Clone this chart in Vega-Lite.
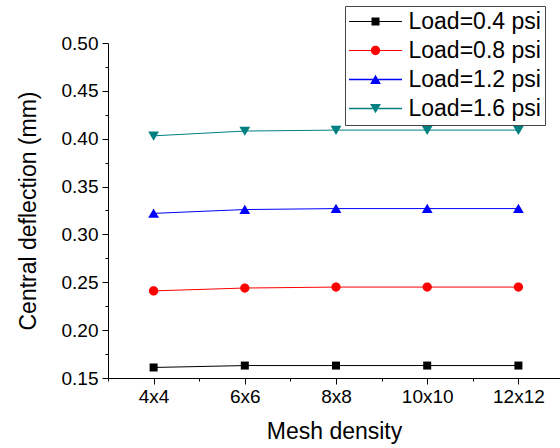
{
  "$schema": "https://vega.github.io/schema/vega-lite/v6.json",
  "width": 452,
  "height": 335,
  "autosize": {"type": "none"},
  "padding": {"left": 108, "top": 43, "right": 0, "bottom": 70},
  "background": "white",
  "data": {
    "values": [
      {"mesh": "4x4", "idx": 1, "load": "Load=0.4 psi", "defl": 0.161},
      {"mesh": "6x6", "idx": 2, "load": "Load=0.4 psi", "defl": 0.163},
      {"mesh": "8x8", "idx": 3, "load": "Load=0.4 psi", "defl": 0.163},
      {"mesh": "10x10", "idx": 4, "load": "Load=0.4 psi", "defl": 0.163},
      {"mesh": "12x12", "idx": 5, "load": "Load=0.4 psi", "defl": 0.163},
      {"mesh": "4x4", "idx": 1, "load": "Load=0.8 psi", "defl": 0.241},
      {"mesh": "6x6", "idx": 2, "load": "Load=0.8 psi", "defl": 0.244},
      {"mesh": "8x8", "idx": 3, "load": "Load=0.8 psi", "defl": 0.245},
      {"mesh": "10x10", "idx": 4, "load": "Load=0.8 psi", "defl": 0.245},
      {"mesh": "12x12", "idx": 5, "load": "Load=0.8 psi", "defl": 0.245},
      {"mesh": "4x4", "idx": 1, "load": "Load=1.2 psi", "defl": 0.322},
      {"mesh": "6x6", "idx": 2, "load": "Load=1.2 psi", "defl": 0.326},
      {"mesh": "8x8", "idx": 3, "load": "Load=1.2 psi", "defl": 0.327},
      {"mesh": "10x10", "idx": 4, "load": "Load=1.2 psi", "defl": 0.327},
      {"mesh": "12x12", "idx": 5, "load": "Load=1.2 psi", "defl": 0.327},
      {"mesh": "4x4", "idx": 1, "load": "Load=1.6 psi", "defl": 0.403},
      {"mesh": "6x6", "idx": 2, "load": "Load=1.6 psi", "defl": 0.408},
      {"mesh": "8x8", "idx": 3, "load": "Load=1.6 psi", "defl": 0.409},
      {"mesh": "10x10", "idx": 4, "load": "Load=1.6 psi", "defl": 0.409},
      {"mesh": "12x12", "idx": 5, "load": "Load=1.6 psi", "defl": 0.409}
    ]
  },
  "encoding": {
    "x": {
      "field": "idx",
      "type": "quantitative",
      "title": "Mesh density",
      "scale": {"domain": [0.5, 5.456], "nice": false, "zero": false},
      "axis": {
        "values": [0.5, 1, 1.5, 2, 2.5, 3, 3.5, 4, 4.5, 5],
        "labelExpr": "datum.value == 1 ? '4x4' : datum.value == 2 ? '6x6' : datum.value == 3 ? '8x8' : datum.value == 4 ? '10x10' : datum.value == 5 ? '12x12' : ''",
        "tickSize": {"condition": {"test": "datum.value % 1 != 0", "value": 3}, "value": 6},
        "labelPadding": 3,
        "titlePadding": 14
      }
    },
    "y": {
      "field": "defl",
      "type": "quantitative",
      "title": "Central deflection (mm)",
      "scale": {"domain": [0.15, 0.5], "nice": false, "zero": false},
      "axis": {
        "values": [0.15, 0.175, 0.2, 0.225, 0.25, 0.275, 0.3, 0.325, 0.35, 0.375, 0.4, 0.425, 0.45, 0.475, 0.5],
        "labelExpr": "round(datum.value * 1000) % 50 == 0 ? format(datum.value, '.2f') : ''",
        "tickSize": {"condition": {"test": "round(datum.value * 1000) % 50 != 0", "value": 3}, "value": 6},
        "labelPadding": 4,
        "titlePadding": 21
      }
    }
  },
  "layer": [
    {"transform": [{"filter": "datum.load == 'Load=0.4 psi'"}], "mark": {"type": "line", "strokeWidth": 1, "color": "#000000"}},
    {"transform": [{"filter": "datum.load == 'Load=0.8 psi'"}], "mark": {"type": "line", "strokeWidth": 1, "color": "#ff0000"}},
    {"transform": [{"filter": "datum.load == 'Load=1.2 psi'"}], "mark": {"type": "line", "strokeWidth": 1, "color": "#0000ff"}},
    {"transform": [{"filter": "datum.load == 'Load=1.6 psi'"}], "mark": {"type": "line", "strokeWidth": 1, "color": "#008080"}},
    {"transform": [{"filter": "datum.load == 'Load=0.4 psi'"}], "mark": {"type": "point", "filled": true, "opacity": 1, "size": 64, "strokeWidth": 0, "color": "#000000", "shape": "M-1,-1H1V1H-1Z"}},
    {"transform": [{"filter": "datum.load == 'Load=0.8 psi'"}], "mark": {"type": "point", "filled": true, "opacity": 1, "size": 64, "strokeWidth": 0, "color": "#ff0000", "shape": "M-1.16,0A1.16,1.16,0,1,1,1.16,0A1.16,1.16,0,1,1,-1.16,0Z"}},
    {"transform": [{"filter": "datum.load == 'Load=1.2 psi'"}], "mark": {"type": "point", "filled": true, "opacity": 1, "size": 64, "strokeWidth": 0, "color": "#0000ff", "shape": "M0,-1.2L1.35,1.1L-1.35,1.1Z"}},
    {"transform": [{"filter": "datum.load == 'Load=1.6 psi'"}], "mark": {"type": "point", "filled": true, "opacity": 1, "size": 64, "strokeWidth": 0, "color": "#008080", "shape": "M0,1.2L1.35,-1.1L-1.35,-1.1Z"}},
    {
      "transform": [{"filter": "datum.idx > 100"}],
      "mark": {"type": "point", "filled": true, "opacity": 1, "size": 64, "strokeWidth": 0},
      "encoding": {
        "color": {
          "field": "load",
          "type": "nominal",
          "title": null,
          "scale": {
            "domain": ["Load=0.4 psi", "Load=0.8 psi", "Load=1.2 psi", "Load=1.6 psi"],
            "range": ["#000000", "#ff0000", "#0000ff", "#008080"]
          },
          "legend": {
            "orient": "none",
            "legendX": 237,
            "legendY": -37,
            "padding": 4,
            "symbolSize": 64,
            "symbolOffset": -7.5,
            "labelOffset": 44,
            "rowPadding": 5,
            "labelFont": "Liberation Sans",
            "labelFontSize": 23,
            "labelColor": "#000000",
            "labelLimit": 300,
            "strokeColor": "#444444",
            "fillColor": "#ffffff",
            "symbolStrokeWidth": 0,
            "symbolOpacity": 1
          }
        },
        "shape": {
          "field": "load",
          "type": "nominal",
          "title": null,
          "scale": {
            "domain": ["Load=0.4 psi", "Load=0.8 psi", "Load=1.2 psi", "Load=1.6 psi"],
            "range": [
              "M-1,-0.125H4.625V0.125H-1Z M6.625,-0.125H12.25V0.125H6.625Z M4.625,-1H6.625V1H4.625Z",
              "M-1,-0.125H4.5V0.125H-1Z M6.75,-0.125H12.25V0.125H6.75Z M4.465,0A1.16,1.16,0,1,1,6.785,0A1.16,1.16,0,1,1,4.465,0Z",
              "M-1,-0.2H4.95V0.2H-1Z M6.3,-0.2H12.25V0.2H6.3Z M5.625,-1.2L6.975,1.1L4.275,1.1Z",
              "M-1,-0.2H4.95V0.2H-1Z M6.3,-0.2H12.25V0.2H6.3Z M5.625,1.2L6.975,-1.1L4.275,-1.1Z"
            ]
          },
          "legend": {
            "orient": "none",
            "legendX": 237,
            "legendY": -37,
            "padding": 4,
            "symbolSize": 64,
            "symbolOffset": -7.5,
            "labelOffset": 44,
            "rowPadding": 5,
            "labelFont": "Liberation Sans",
            "labelFontSize": 23,
            "labelColor": "#000000",
            "labelLimit": 300,
            "strokeColor": "#444444",
            "fillColor": "#ffffff",
            "symbolStrokeWidth": 0,
            "symbolOpacity": 1
          }
        }
      }
    }
  ],
  "config": {
    "view": {"stroke": null},
    "font": "Liberation Sans",
    "axis": {
      "grid": false,
      "domainColor": "#000000",
      "domainWidth": 1,
      "tickColor": "#000000",
      "tickWidth": 1,
      "labelFont": "Liberation Sans",
      "labelFontSize": 19,
      "labelColor": "#000000",
      "labelOverlap": false,
      "labelFlush": false,
      "labelBound": false,
      "titleFont": "Liberation Sans",
      "titleFontSize": 23,
      "titleFontWeight": "normal",
      "titleColor": "#000000"
    }
  }
}
